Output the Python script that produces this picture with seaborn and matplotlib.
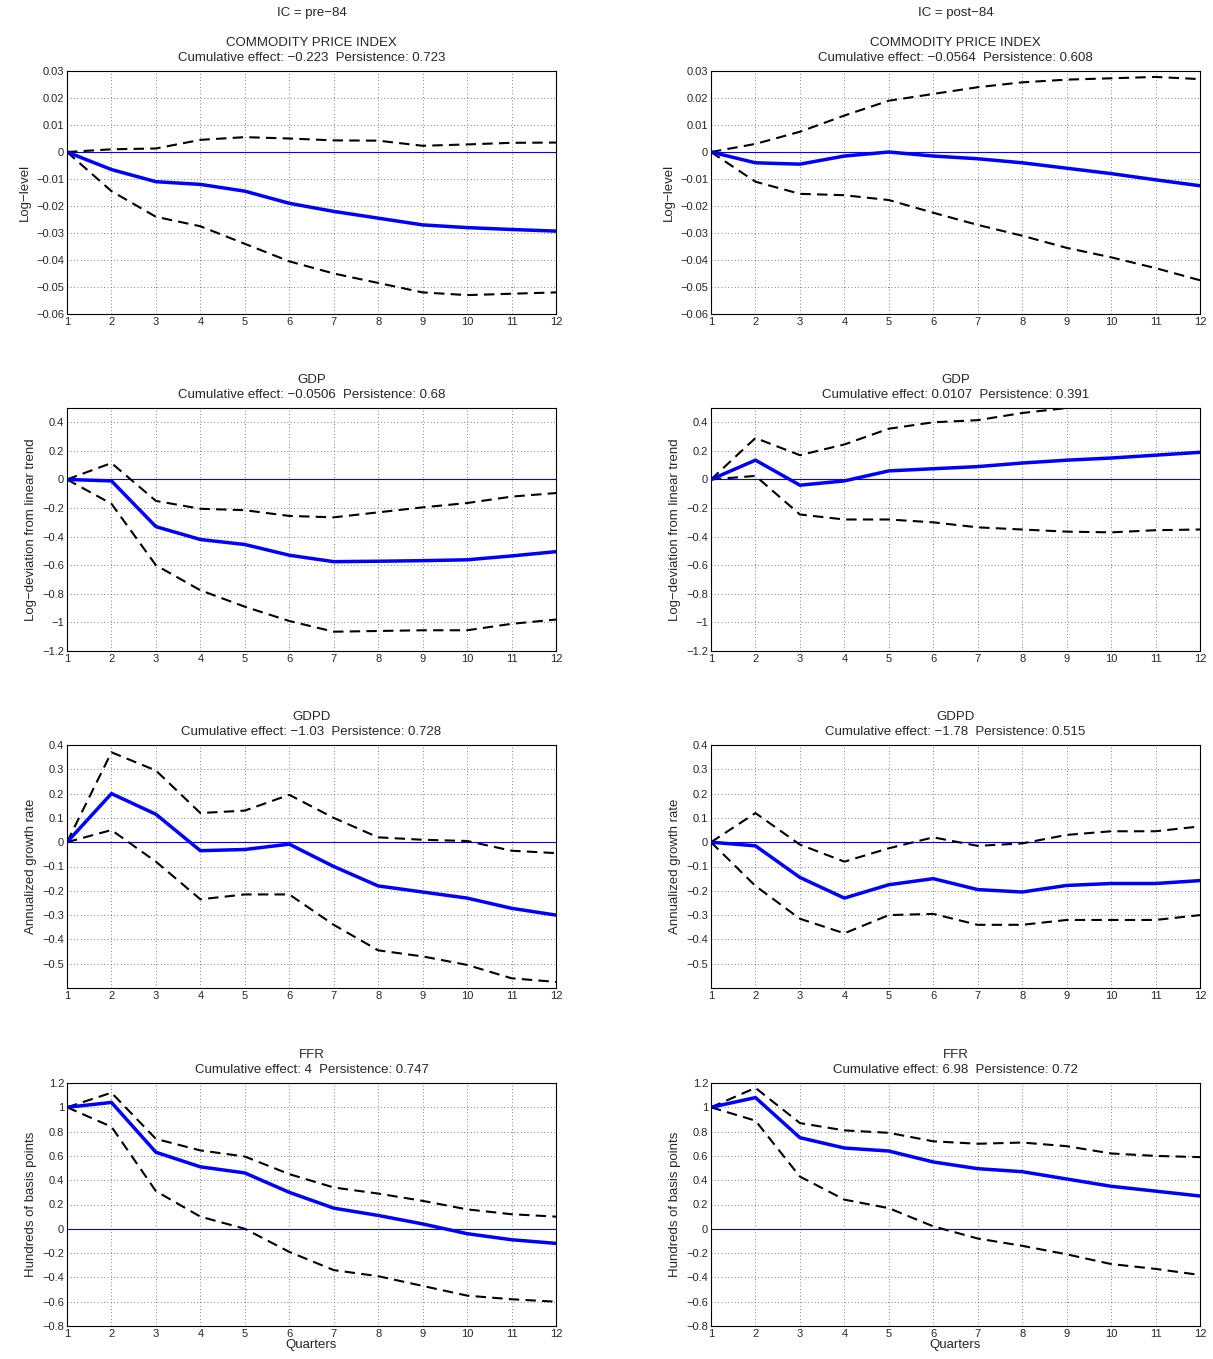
import matplotlib
matplotlib.use("Agg")
import matplotlib.pyplot as plt
import seaborn as sns
import numpy as np
import pandas as pd

sns.set_style("white")
plt.rcParams['font.family'] = ['Liberation Sans', 'DejaVu Sans']

quarters = list(range(1, 13))
col_titles = ["IC = pre\u221284", "IC = post\u221284"]
var_names = ["COMMODITY PRICE INDEX", "GDP", "GDPD", "FFR"]
ylabels = ["Log\u2212level", "Log\u2212deviation from linear trend",
           "Annualized growth rate", "Hundreds of basis points"]
stats_pre = ["Cumulative effect: \u22120.223  Persistence: 0.723",
             "Cumulative effect: \u22120.0506  Persistence: 0.68",
             "Cumulative effect: \u22121.03  Persistence: 0.728",
             "Cumulative effect: 4  Persistence: 0.747"]
stats_post = ["Cumulative effect: \u22120.0564  Persistence: 0.608",
              "Cumulative effect: 0.0107  Persistence: 0.391",
              "Cumulative effect: \u22121.78  Persistence: 0.515",
              "Cumulative effect: 6.98  Persistence: 0.72"]

# pre-84
cpi_pre_mid = [0, -0.0065, -0.011, -0.012, -0.0145, -0.019, -0.022, -0.0245, -0.027, -0.028, -0.0287, -0.0293]
cpi_pre_up = [0, 0.001, 0.0013, 0.0045, 0.0055, 0.005, 0.0043, 0.0042, 0.0023, 0.0028, 0.0034, 0.0035]
cpi_pre_lo = [0, -0.0145, -0.024, -0.0275, -0.034, -0.0405, -0.045, -0.0485, -0.052, -0.053, -0.0525, -0.052]
gdp_pre_mid = [0, -0.01, -0.33, -0.42, -0.455, -0.53, -0.575, -0.572, -0.568, -0.562, -0.535, -0.505]
gdp_pre_up = [0, 0.115, -0.15, -0.205, -0.215, -0.255, -0.265, -0.23, -0.195, -0.165, -0.12, -0.095]
gdp_pre_lo = [0, -0.17, -0.6, -0.775, -0.89, -0.99, -1.065, -1.06, -1.055, -1.055, -1.01, -0.98]
gdpd_pre_mid = [0, 0.2, 0.115, -0.035, -0.03, -0.008, -0.1, -0.18, -0.205, -0.23, -0.272, -0.3]
gdpd_pre_up = [0, 0.37, 0.295, 0.12, 0.13, 0.195, 0.1, 0.02, 0.01, 0.005, -0.035, -0.045]
gdpd_pre_lo = [0, 0.05, -0.08, -0.235, -0.215, -0.215, -0.34, -0.445, -0.47, -0.505, -0.56, -0.575]
ffr_pre_mid = [1, 1.04, 0.63, 0.51, 0.46, 0.3, 0.17, 0.11, 0.04, -0.04, -0.09, -0.12]
ffr_pre_up = [1, 1.12, 0.74, 0.645, 0.595, 0.45, 0.34, 0.29, 0.23, 0.16, 0.12, 0.1]
ffr_pre_lo = [1, 0.84, 0.31, 0.1, 0.0, -0.19, -0.34, -0.39, -0.47, -0.55, -0.58, -0.6]
# post-84
cpi_post_mid = [0, -0.004, -0.0045, -0.0015, 0, -0.0015, -0.0025, -0.004, -0.006, -0.008, -0.0103, -0.0125]
cpi_post_up = [0, 0.003, 0.0075, 0.0135, 0.019, 0.0215, 0.024, 0.0258, 0.0268, 0.0273, 0.0278, 0.027]
cpi_post_lo = [0, -0.011, -0.0155, -0.016, -0.0178, -0.0225, -0.027, -0.031, -0.0355, -0.039, -0.043, -0.0475]
gdp_post_mid = [0, 0.135, -0.04, -0.01, 0.06, 0.075, 0.09, 0.115, 0.135, 0.15, 0.17, 0.19]
gdp_post_up = [0, 0.29, 0.17, 0.245, 0.355, 0.4, 0.415, 0.465, 0.5, 0.52, 0.53, 0.54]
gdp_post_lo = [0, 0.025, -0.245, -0.28, -0.28, -0.3, -0.335, -0.35, -0.365, -0.37, -0.355, -0.35]
gdpd_post_mid = [0, -0.015, -0.145, -0.23, -0.175, -0.15, -0.195, -0.205, -0.178, -0.17, -0.17, -0.158]
gdpd_post_up = [0, 0.12, -0.01, -0.08, -0.025, 0.02, -0.015, -0.005, 0.03, 0.045, 0.045, 0.065]
gdpd_post_lo = [0, -0.18, -0.315, -0.375, -0.3, -0.295, -0.34, -0.34, -0.32, -0.32, -0.32, -0.3]
ffr_post_mid = [1, 1.08, 0.75, 0.665, 0.64, 0.55, 0.495, 0.47, 0.41, 0.35, 0.31, 0.27]
ffr_post_up = [1, 1.16, 0.87, 0.81, 0.79, 0.72, 0.7, 0.71, 0.68, 0.62, 0.6, 0.59]
ffr_post_lo = [1, 0.89, 0.43, 0.24, 0.17, 0.02, -0.08, -0.14, -0.21, -0.29, -0.33, -0.38]

series = [
    [(cpi_pre_mid, cpi_pre_up, cpi_pre_lo), (cpi_post_mid, cpi_post_up, cpi_post_lo)],
    [(gdp_pre_mid, gdp_pre_up, gdp_pre_lo), (gdp_post_mid, gdp_post_up, gdp_post_lo)],
    [(gdpd_pre_mid, gdpd_pre_up, gdpd_pre_lo), (gdpd_post_mid, gdpd_post_up, gdpd_post_lo)],
    [(ffr_pre_mid, ffr_pre_up, ffr_pre_lo), (ffr_post_mid, ffr_post_up, ffr_post_lo)],
]
ylims = [(-0.06, 0.03), (-1.2, 0.5), (-0.6, 0.4), (-0.8, 1.2)]
yticks = [np.arange(-0.06, 0.031, 0.01), np.arange(-1.2, 0.41, 0.2),
          np.arange(-0.5, 0.41, 0.1), np.arange(-0.8, 1.21, 0.2)]

W, H = 1213, 1359
fig = plt.figure(figsize=(W / 100, H / 100), dpi=100)
lefts = [67, 711]
tops = [71, 408, 745, 1083]
aw, ah = 489, 243

def fmt(v):
    if abs(v) < 1e-9:
        return "0"
    s = ("%.2f" % v).rstrip('0').rstrip('.')
    return s.replace('-', '\u2212')

for r in range(4):
    for c in range(2):
        ax = fig.add_axes([lefts[c] / W, 1 - (tops[r] + ah) / H, aw / W, ah / H])
        mid, up, lo = series[r][c]
        ax.axhline(0, color='blue', lw=0.8, zorder=1)
        sns.lineplot(x=quarters, y=up, ax=ax, color='black', lw=1.5, linestyle=(0, (5, 3)))
        sns.lineplot(x=quarters, y=lo, ax=ax, color='black', lw=1.5, linestyle=(0, (5, 3)))
        sns.lineplot(x=quarters, y=mid, ax=ax, color='blue', lw=2.5)
        ax.set_xlim(1, 12)
        ax.set_ylim(*ylims[r])
        ax.set_xticks(quarters)
        yt = yticks[r]
        ax.set_yticks(yt)
        if r == 0:
            labs = [("%.2f" % v).replace('-', '\u2212') if abs(v) > 1e-9 else "0" for v in yt]
        else:
            labs = [fmt(round(v, 2)) for v in yt]
        ax.set_yticklabels(labs)
        ax.tick_params(labelsize=8, direction='in', length=3, pad=2)
        ax.grid(True, color='#555555', linestyle=(0, (1, 3)), lw=0.6)
        for sp in ax.spines.values():
            sp.set_color('black'); sp.set_linewidth(0.8)
        ax.set_ylabel(ylabels[r], fontsize=9.5)
        st = stats_pre[r] if c == 0 else stats_post[r]
        ax.set_title(var_names[r] + "\n" + st, fontsize=9.5, pad=7, linespacing=1.4)
        if r == 3:
            ax.set_xlabel("Quarters", fontsize=9.5, labelpad=0)
        if r == 0:
            fig.text((lefts[c] + aw / 2) / W, 1 - 13 / H, col_titles[c], ha='center', va='center', fontsize=9.5)

fig.savefig("out.png", dpi=100)
